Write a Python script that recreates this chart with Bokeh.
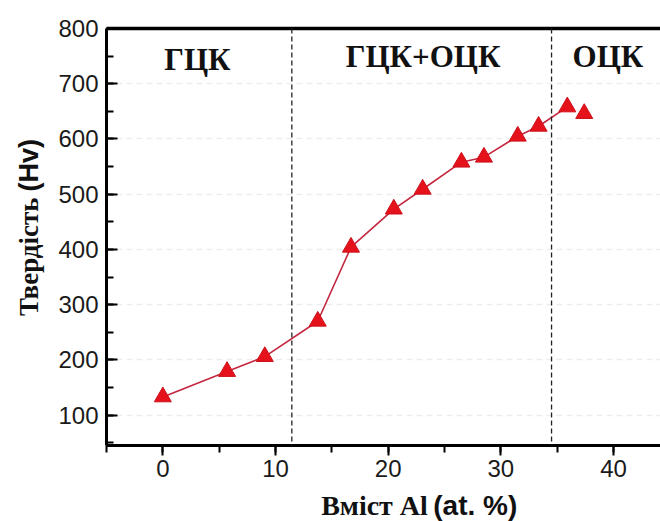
import math
from bokeh.plotting import figure
from bokeh.layouts import row, column
from bokeh.models import (Range1d, LinearAxis, SingleIntervalTicker, FixedTicker, Span,
                          Label, ColumnDataSource)
from bokeh.embed import file_html
from bokeh.resources import INLINE

# ---- data ----
al_content = [0.0, 5.7, 9.05, 13.75, 16.7, 20.5, 23.06, 26.5, 28.5, 31.5, 33.35, 35.9]
hardness = [133, 179, 206, 270, 404, 473, 509, 558, 567, 605, 623, 658]
extra_al = [37.4]
extra_hardness = [646]
phase_boundaries = [11.45, 34.5]
phase_names = ["ГЦК", "ГЦК+ОЦК", "ОЦК"]
phase_label_x = [3.06, 23.1, 39.5]
phase_label_y = [744, 750, 750]
y_title = ["Твердість", "(Hv)"]
x_title = ["Вміст Al", "(at. %)"]

SERIF = "Liberation Serif"
SANS = "Liberation Sans"
INK = "#111111"

# ---- main plot ----
p = figure(width=612, height=488, output_backend="svg", toolbar_location=None,
           x_range=Range1d(-5, 44.17), y_range=Range1d(45, 800),
           min_border_left=58, min_border_right=0, min_border_top=28,
           min_border_bottom=43)
p.outline_line_color = None

xa = p.xaxis[0]
xa.ticker = SingleIntervalTicker(interval=10, num_minor_ticks=2)
ya = p.yaxis[0]
ya.ticker = SingleIntervalTicker(interval=100, num_minor_ticks=2)
for ax in (xa, ya):
    ax.axis_line_width = 3
    ax.axis_line_color = "black"
    ax.major_tick_line_width = 2
    ax.minor_tick_line_width = 2
    ax.major_tick_line_color = "black"
    ax.minor_tick_line_color = "black"
    ax.major_label_text_font = SANS
    ax.major_label_text_font_size = "24px"
    ax.major_label_text_color = "#1a1a1a"
xa.major_tick_in = 0
xa.major_tick_out = 10
xa.minor_tick_in = 0
xa.minor_tick_out = 7
xa.major_label_standoff = 4
ya.major_tick_in = 11
ya.major_tick_out = 0
ya.minor_tick_in = 7
ya.minor_tick_out = 0
ya.major_label_standoff = 8

top = LinearAxis(ticker=FixedTicker(ticks=[], minor_ticks=[]),
                 major_tick_in=0, major_tick_out=0, minor_tick_in=0, minor_tick_out=0,
                 axis_line_width=3.5, major_label_standoff=0)
p.add_layout(top, "above")

p.xgrid.grid_line_color = None
p.ygrid.grid_line_color = "#ededed"
p.ygrid.grid_line_dash = "6 4"
p.ygrid.grid_line_width = 1.5
p.ygrid.ticker = SingleIntervalTicker(interval=100)

for b in phase_boundaries:
    p.add_layout(Span(location=b, dimension="height", line_color="#222222",
                      line_width=1.3, line_dash="5 3"))

src = ColumnDataSource(dict(x=al_content, y=hardness))
p.line("x", "y", source=src, line_color="#c42840", line_width=1.6)
p.scatter("x", "y", source=src, marker="triangle", size=17,
          fill_color="#e5121c", line_color="#cc101a", line_width=1)
p.scatter(extra_al, extra_hardness, marker="triangle", size=17,
          fill_color="#e5121c", line_color="#cc101a", line_width=1)

for name, lx, ly in zip(phase_names, phase_label_x, phase_label_y):
    p.add_layout(Label(x=lx, y=ly, text=name, text_font=SERIF, text_font_style="bold",
                       text_font_size="31px", text_align="center",
                       text_baseline="middle", text_color=INK))

# ---- y title strip ----
yl = figure(width=48, height=521, output_backend="svg", toolbar_location=None,
            x_range=Range1d(0, 48), y_range=Range1d(0, 521),
            min_border=0, x_axis_location=None, y_axis_location=None)
yl.outline_line_color = None
yl.grid.visible = False
yl.add_layout(Label(x=28, y=324, text=y_title[0], angle=math.pi / 2,
                    text_font=SERIF, text_font_style="bold", text_font_size="27px",
                    text_align="right", text_baseline="middle", text_color=INK))
yl.add_layout(Label(x=28, y=330, text=y_title[1], angle=math.pi / 2,
                    text_font=SANS, text_font_style="bold", text_font_size="27px",
                    text_align="left", text_baseline="middle", text_color=INK))

# ---- x title strip ----
xl = figure(width=612, height=33, output_backend="svg", toolbar_location=None,
            x_range=Range1d(0, 612), y_range=Range1d(0, 33),
            min_border=0, x_axis_location=None, y_axis_location=None)
xl.outline_line_color = None
xl.grid.visible = False
xl.add_layout(Label(x=355, y=16, text=x_title[0], text_font=SERIF,
                    text_font_style="bold", text_font_size="28px",
                    text_align="right", text_baseline="middle", text_color=INK))
xl.add_layout(Label(x=361, y=16, text=x_title[1], text_font=SANS,
                    text_font_style="bold", text_font_size="28px",
                    text_align="left", text_baseline="middle", text_color=INK))

layout = row(yl, column(p, xl, spacing=0), spacing=0)

open("out.html", "w").write(file_html(layout, INLINE))
